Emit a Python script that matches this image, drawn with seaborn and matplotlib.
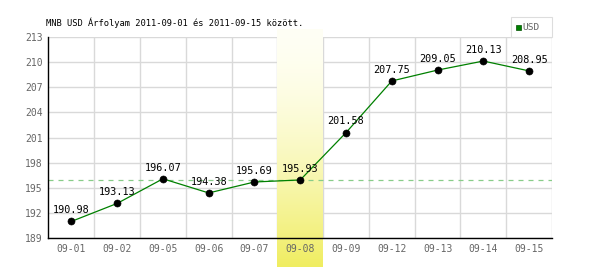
import numpy as np
import pandas as pd
import matplotlib
matplotlib.use("Agg")
import matplotlib.pyplot as plt
import seaborn as sns
from matplotlib.patches import Rectangle

dates = ["09-01", "09-02", "09-05", "09-06", "09-07", "09-08",
         "09-09", "09-12", "09-13", "09-14", "09-15"]
values = [190.98, 193.13, 196.07, 194.38, 195.69, 195.93,
          201.58, 207.75, 209.05, 210.13, 208.95]
highlight = "09-08"
yticks = [189, 192, 195, 198, 201, 204, 207, 210, 213]
title = "MNB USD Árfolyam 2011-09-01 és 2011-09-15 között."

sns.set_theme(style="white")
plt.rcParams['font.family'] = ['DejaVu Sans Mono']

df = pd.DataFrame({"date": dates, "value": values})
df["x"] = np.arange(len(dates))

fig = plt.figure(figsize=(6, 2.7), dpi=100)
ax = fig.add_axes([48.5 / 600, 32 / 270, (552 - 48.5) / 600, (238 - 37) / 270])
ax.set_axisbelow(False)

ymin, ymax = 189, 213

# highlight band with gradient
hi = dates.index(highlight)
ext_bottom = ymin - (266.7 - 238) * (ymax - ymin) / 201
ext_top = ymax + (37 - 29) * (ymax - ymin) / 201
grad = (np.linspace(0, 1, 256) ** 1.6).reshape(-1, 1)
top_c = np.array([1.0, 1.0, 0.96])
bot_c = np.array([0.94, 0.93, 0.38])
img = top_c + (bot_c - top_c) * grad
img = img.reshape(256, 1, 3)
ax.imshow(img, extent=[hi - 0.5, hi + 0.5, ext_bottom, ext_top], aspect="auto",
          origin="upper", clip_on=False, zorder=1.5)
ax.set_xlim(-0.5, len(dates) - 0.5)
ax.set_ylim(ymin, ymax)

# grid
for yv in yticks:
    ax.axhline(yv, color="#d9d9d9", lw=1, zorder=1)
for xv in np.arange(0.5, len(dates), 1.0):
    ax.axvline(xv, color="#d9d9d9", lw=1, zorder=1)

# reference dashed line at highlighted value
ax.axhline(values[hi], color="#88cc88", lw=0.9, ls=(0, (4, 4)), zorder=1.6)

sns.lineplot(data=df, x="x", y="value", ax=ax, color="#008000", lw=0.9,
             zorder=3, legend=False)
sns.scatterplot(data=df, x="x", y="value", ax=ax, color="black", s=26,
                edgecolor="black", zorder=4, legend=False)

for xi, v in zip(df["x"], values):
    ax.annotate(f"{v:.2f}", (xi, v), xytext=(0, 4.5), textcoords="offset points",
                ha="center", va="bottom", fontsize=7.3, color="black", zorder=5)

ax.set_xticks(df["x"])
ax.set_xticklabels(dates)
ax.set_yticks(yticks)
ax.set_yticklabels([str(t) for t in yticks])
ax.tick_params(axis="both", length=0, labelsize=7, labelcolor="#666666")
ax.tick_params(axis="x", pad=4.5)
ax.tick_params(axis="y", pad=4)
ax.set_xlabel("")
ax.set_ylabel("")
ax.set_xlim(-0.5, len(dates) - 0.5)
ax.set_ylim(ymin, ymax)

for s in ["top", "right"]:
    ax.spines[s].set_visible(False)
ax.spines["left"].set_color("black")
ax.spines["bottom"].set_color("black")
ax.spines["left"].set_linewidth(1)
ax.spines["bottom"].set_linewidth(1)
ax.spines["left"].set_zorder(6)
ax.spines["bottom"].set_zorder(6)

fig.text(46 / 600, 1 - 23 / 270, title, fontsize=6.3, color="black",
         ha="left", va="center")

# legend box
fig.patches.append(Rectangle((511 / 600, 1 - 37 / 270), 41 / 600, 20 / 270,
                             transform=fig.transFigure, facecolor="white",
                             edgecolor="#dddddd", lw=0.8))
fig.patches.append(Rectangle((515.5 / 600, 1 - 29.5 / 270), 5 / 600, 5 / 270,
                             transform=fig.transFigure, facecolor="#008000",
                             edgecolor="#005000", lw=0.5))
fig.text(522.5 / 600, 1 - 27 / 270, "USD", fontsize=6.8, color="#666666",
         ha="left", va="center")

fig.savefig("out.png", dpi=100)
